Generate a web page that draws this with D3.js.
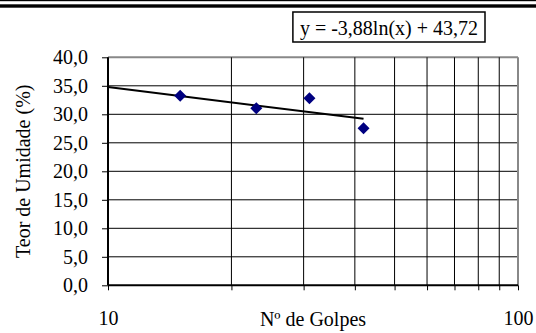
<!DOCTYPE html>
<html>
<head>
<meta charset="utf-8">
<script src="https://cdn.jsdelivr.net/npm/d3@7"></script>
<style>
  body { margin: 0; background: #fff; }
  text { font-family: "Liberation Serif", "Times New Roman", serif; fill: #000; }
</style>
</head>
<body>
<script>
// Dados do ensaio (limite de liquidez)
var golpes = [15, 23, 31, 42];
var umidade = [33.26, 31.05, 32.8, 27.54];
// Linha de tendência logarítmica: y = a ln(x) + b
var trendA = -3.88;
var trendB = 43.72;
var trendRange = [10, 42];
var yTicks = [0, 5, 10, 15, 20, 25, 30, 35, 40];
var xTicks = [10, 20, 30, 40, 50, 60, 70, 80, 90, 100];
var xLabels = [10, 100];

var width = 536, height = 333;
var plotLeft = 108, plotRight = 518, plotTop = 57.3, plotBottom = 285.3;
var serif = "'Liberation Serif', 'Times New Roman', serif";

var svg = d3.select("body").append("svg")
    .attr("width", width)
    .attr("height", height);

// Linhas no topo da página
svg.append("rect").attr("x", 0).attr("y", 0).attr("width", width).attr("height", 1.2).attr("fill", "#000");
svg.append("rect").attr("x", 0).attr("y", 4.3).attr("width", width).attr("height", 3.4).attr("fill", "#000");

var x = d3.scaleLog().domain([10, 100]).range([plotLeft, plotRight]);
var y = d3.scaleLinear().domain([0, 40]).range([plotBottom, plotTop]);

// Grade horizontal
svg.append("g").selectAll("line")
    .data(yTicks.slice(1))
    .enter().append("line")
    .attr("x1", plotLeft).attr("x2", plotRight)
    .attr("y1", function(d) { return y(d); })
    .attr("y2", function(d) { return y(d); })
    .attr("stroke", function(d) { return d == 40 ? "#888" : "#000"; })
    .attr("stroke-width", function(d) { return d == 40 ? 2 : 1; });

// Grade vertical
svg.append("g").selectAll("line")
    .data(xTicks.slice(1))
    .enter().append("line")
    .attr("x1", function(d) { return x(d); })
    .attr("x2", function(d) { return x(d); })
    .attr("y1", plotTop).attr("y2", plotBottom)
    .attr("stroke", function(d) { return d == 100 ? "#888" : "#000"; })
    .attr("stroke-width", function(d) { return d == 100 ? 2 : 1; });

// Eixo y
var yAxis = d3.axisLeft(y)
    .tickValues(yTicks)
    .tickSize(6)
    .tickPadding(14)
    .tickFormat(function(d) { return d3.format(".1f")(d).replace(".", ","); });
var gy = svg.append("g")
    .attr("transform", "translate(" + plotLeft + ",0)")
    .call(yAxis)
    .attr("font-family", serif)
    .attr("font-size", 20);
gy.select(".domain").attr("stroke", "#000").attr("stroke-width", 2)
    .attr("d", "M0," + plotTop + "V" + plotBottom);
gy.selectAll("line").attr("stroke", "#000").attr("stroke-width", 1);

// Eixo x
var xAxis = d3.axisBottom(x)
    .tickValues(xTicks)
    .tickSize(5)
    .tickPadding(21)
    .tickFormat(function(d) { return xLabels.indexOf(d) >= 0 ? d : ""; });
var gx = svg.append("g")
    .attr("transform", "translate(0," + plotBottom + ")")
    .call(xAxis)
    .attr("font-family", serif)
    .attr("font-size", 20);
gx.select(".domain").attr("stroke", "#000").attr("stroke-width", 2)
    .attr("d", "M" + plotLeft + ",0H" + plotRight);
gx.selectAll("line").attr("stroke", "#000").attr("stroke-width", 1);

// Linha de tendência
var trendPts = trendRange.map(function(v) { return [v, trendA * Math.log(v) + trendB]; });
svg.append("line")
    .attr("x1", x(trendPts[0][0])).attr("y1", y(trendPts[0][1]))
    .attr("x2", x(trendPts[1][0])).attr("y2", y(trendPts[1][1]))
    .attr("stroke", "#000")
    .attr("stroke-width", 2);

// Pontos
svg.append("g").selectAll("path")
    .data(golpes)
    .enter().append("path")
    .attr("d", "M0,-6L6,0L0,6L-6,0Z")
    .attr("transform", function(d, i) { return "translate(" + x(d) + "," + y(umidade[i]) + ")"; })
    .attr("fill", "#000080");

// Títulos dos eixos
svg.append("text")
    .attr("x", (plotLeft + plotRight) / 2)
    .attr("y", 326)
    .attr("text-anchor", "middle")
    .style("font-size", "20px")
    .text("Nº de Golpes");

svg.append("text")
    .attr("transform", "translate(30," + (plotTop + plotBottom) / 2 + ") rotate(-90)")
    .attr("text-anchor", "middle")
    .style("font-size", "20px")
    .text("Teor de Umidade (%)");

// Caixa da equação
var eqBox = svg.append("rect");
var eq = svg.append("text")
    .attr("y", 35)
    .attr("text-anchor", "middle")
    .style("font-size", "20px")
    .text("y = " + String(trendA).replace(".", ",") + "ln(x) + " + String(trendB).replace(".", ","));
var bb = eq.node().getBBox();
eqBox.attr("x", 485 - bb.width - 14).attr("y", 12)
    .attr("width", bb.width + 14).attr("height", 30)
    .attr("fill", "#fff")
    .attr("stroke", "#000")
    .attr("stroke-width", 1.5);
eq.attr("x", 485 - 7 - bb.width / 2);
</script>
</body>
</html>
